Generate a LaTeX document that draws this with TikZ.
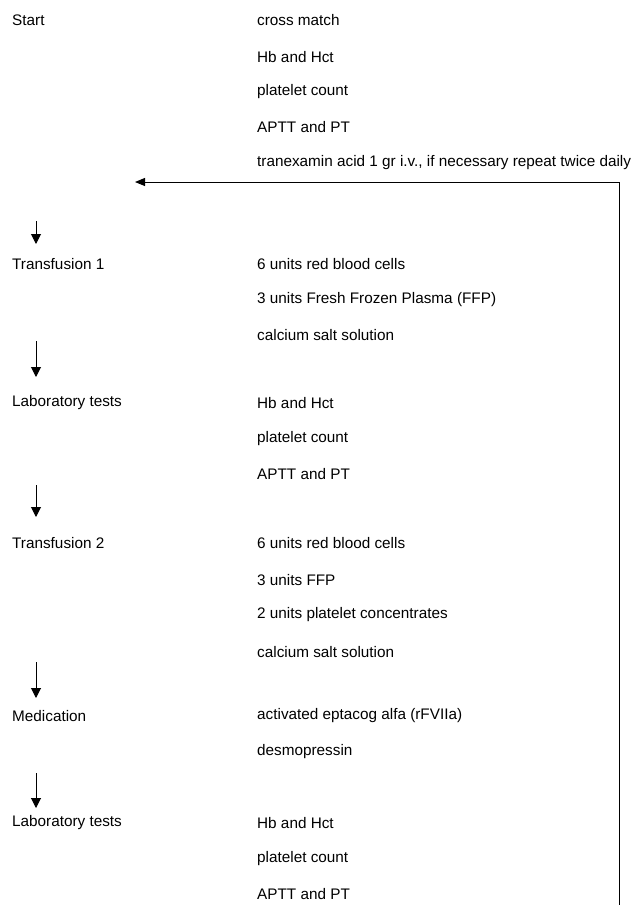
\documentclass[tikz,border=0pt]{standalone}
\usepackage{fontspec}
\setmainfont{Liberation Sans}
\usetikzlibrary{arrows.meta}
\begin{document}
\begin{tikzpicture}[x=1pt,y=-1pt,
  lbl/.style={anchor=west,inner sep=0pt,font=\fontsize{15.3}{17}\selectfont},
  flow/.style={line width=1pt,-{Triangle[length=10pt,width=10pt]}},
  loop/.style={line width=1pt,-{Triangle[length=10pt,width=8pt]}}]
\useasboundingbox (0,0) rectangle (631,905);
% left column
\node[lbl] (s) at (12,20) {Start};
\node[lbl] (t1) at (12,264) {Transfusion 1};
\node[lbl] (l1) at (12,403) {Laboratory tests};
\node[lbl] (t2) at (12,543) {Transfusion 2};
\node[lbl] (m) at (12,716) {Medication};
\node[lbl] (l2) at (12,823) {Laboratory tests};
% right column
\node[lbl] (a1) at (257,20) {cross match};
\node[lbl] (a2) at (257,57) {Hb and Hct};
\node[lbl] (a3) at (257,92) {platelet count};
\node[lbl] (a4) at (257,127) {APTT and PT};
\node[lbl] (a5) at (257,163) {tranexamin acid 1 gr i.v., if necessary repeat twice daily};
\node[lbl] (b1) at (257,264) {6 units red blood cells};
\node[lbl] (b2) at (257,300) {3 units Fresh Frozen Plasma (FFP)};
\node[lbl] (b3) at (257,335) {calcium salt solution};
\node[lbl] (c1) at (257,403) {Hb and Hct};
\node[lbl] (c2) at (257,439) {platelet count};
\node[lbl] (c3) at (257,474) {APTT and PT};
\node[lbl] (d1) at (257,543) {6 units red blood cells};
\node[lbl] (d2) at (257,580) {3 units FFP};
\node[lbl] (d3) at (257,615) {2 units platelet concentrates};
\node[lbl] (d4) at (257,652) {calcium salt solution};
\node[lbl] (e1) at (257,716) {activated eptacog alfa (rFVIIa)};
\node[lbl] (e2) at (257,752) {desmopressin};
\node[lbl] (f1) at (257,823) {Hb and Hct};
\node[lbl] (f2) at (257,859) {platelet count};
\node[lbl] (f3) at (257,894) {APTT and PT};
% arrows
\coordinate (p1s) at (36,221); \coordinate (p1e) at (36,244);
\coordinate (p2s) at (36,341); \coordinate (p2e) at (36,377);
\coordinate (p3s) at (36,485); \coordinate (p3e) at (36,517);
\coordinate (p4s) at (36,662); \coordinate (p4e) at (36,698);
\coordinate (p5s) at (36,773); \coordinate (p5e) at (36,808);
\draw[flow] (p1s) -- (p1e);
\draw[flow] (p2s) -- (p2e);
\draw[flow] (p3s) -- (p3e);
\draw[flow] (p4s) -- (p4e);
\draw[flow] (p5s) -- (p5e);
% loop back
\coordinate (lb) at (619,905);
\coordinate (lc) at (619,182);
\coordinate (la) at (135,182);
\draw[loop] (lb) -- (lc) -- (la);
\end{tikzpicture}
\end{document}
